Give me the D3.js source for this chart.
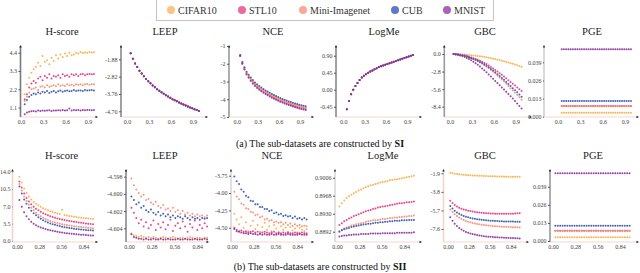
<!DOCTYPE html>
<html lang="en">
<head>
<meta charset="UTF-8">
<title>Transferability metrics on sub-datasets</title>
<script src="https://d3js.org/d3.v7.min.js"></script>
<style>
    body { margin: 0; background: #fff; }
    svg { display: block; }
    svg text { font-family: "Liberation Serif", "DejaVu Serif", serif; }
    .title { font-size: 10.5px; fill: #222; }
    .caption { font-size: 10px; fill: #111; }
    .legend_text { font-size: 10px; fill: #333; }
</style>
</head>
<body>
<svg width="640" height="273"></svg>
<script>
    // ---- data ----
    const datasets = ["CIFAR10", "STL10", "Mini-Imagenet", "CUB", "MNIST"];
    const metrics = ["H-score", "LEEP", "NCE", "LogMe", "GBC", "PGE"];

    const xTop = [0.05,0.08,0.11,0.14,0.17,0.20,0.23,0.26,0.29,0.32,0.35,0.38,0.41,0.44,0.47,0.50,
                  0.53,0.56,0.59,0.62,0.65,0.68,0.71,0.74,0.77,0.80,0.83,0.86,0.89,0.92,0.95,0.98];
    const xBottom = [0.03,0.06,0.09,0.12,0.15,0.18,0.21,0.24,0.27,0.30,0.33,0.36,0.39,0.42,0.45,0.48,
                     0.51,0.54,0.57,0.60,0.63,0.66,0.69,0.72,0.75,0.78,0.81,0.84,0.87,0.90,0.93,0.96];
    const xTicksTop = [0, 0.3, 0.6, 0.9];
    const xTicksBottom = [0, 0.28, 0.56, 0.84];

    // (a) SI  -- series in datasets order
    const hscoreTop = [
        [1.9,2.5,2.9,3.2,3.4,3.55,3.8,3.6,4.2,3.85,3.95,3.7,4.1,3.9,4.25,4.05,4.3,4.15,4.35,4.2,4.4,4.25,4.3,4.4,4.35,4.45,4.38,4.42,4.4,4.45,4.42,4.43],
        [1.6,1.9,2.3,2.55,2.7,2.6,2.85,2.95,2.75,3.0,2.9,3.1,2.85,3.0,2.95,3.05,2.9,3.1,3.0,3.05,2.95,3.1,3.05,3.1,3.0,3.1,3.12,3.05,3.1,3.12,3.1,3.12],
        [1.5,1.75,2.0,2.2,2.25,2.3,2.15,2.35,2.4,2.3,2.45,2.35,2.4,2.45,2.38,2.5,2.42,2.45,2.4,2.5,2.45,2.48,2.42,2.5,2.47,2.5,2.45,2.5,2.52,2.48,2.5,2.5],
        [1.3,1.55,1.75,1.85,1.95,1.9,2.0,1.95,2.05,2.0,2.1,1.98,2.05,2.1,2.0,2.08,2.12,2.05,2.1,2.12,2.08,2.1,2.15,2.1,2.12,2.13,2.1,2.15,2.12,2.14,2.15,2.13],
        [0.7,0.8,0.85,0.88,0.9,0.87,0.92,0.9,0.93,0.91,0.92,0.94,0.9,0.93,0.92,0.94,0.93,0.95,0.92,0.94,1.05,0.93,0.95,0.94,0.95,0.93,0.95,0.94,0.96,0.95,0.94,0.95]
    ];
    // all five datasets fall on the same LEEP curve
    const leepTopShared = [-1.55,-1.85,-2.1,-2.3,-2.5,-2.65,-2.8,-2.95,-3.07,-3.18,-3.3,-3.4,-3.5,-3.58,-3.67,-3.75,
                           -3.83,-3.9,-3.97,-4.04,-4.1,-4.16,-4.22,-4.28,-4.33,-4.39,-4.44,-4.49,-4.54,-4.59,-4.63,-4.68];
    const nceTop = [
        [-1.52,-1.93,-2.24,-2.49,-2.67,-2.83,-2.97,-3.1,-3.2,-3.3,-3.4,-3.48,-3.56,-3.63,-3.7,-3.76,-3.82,-3.88,-3.94,-3.99,-4.04,-4.09,-4.13,-4.18,-4.22,-4.26,-4.3,-4.33,-4.37,-4.4,-4.43,-4.46],
        [-1.55,-1.98,-2.3,-2.56,-2.75,-2.92,-3.07,-3.2,-3.3,-3.4,-3.49,-3.57,-3.65,-3.72,-3.79,-3.85,-3.91,-3.97,-4.03,-4.08,-4.13,-4.18,-4.22,-4.27,-4.31,-4.35,-4.39,-4.42,-4.46,-4.49,-4.52,-4.55],
        [-1.54,-1.96,-2.27,-2.53,-2.71,-2.88,-3.02,-3.15,-3.25,-3.35,-3.44,-3.52,-3.6,-3.67,-3.74,-3.8,-3.86,-3.92,-3.98,-4.03,-4.08,-4.13,-4.17,-4.22,-4.26,-4.3,-4.34,-4.37,-4.41,-4.44,-4.47,-4.5],
        [-1.5,-1.9,-2.2,-2.45,-2.62,-2.78,-2.92,-3.05,-3.15,-3.25,-3.34,-3.42,-3.5,-3.57,-3.64,-3.7,-3.76,-3.82,-3.88,-3.93,-3.98,-4.03,-4.07,-4.12,-4.16,-4.2,-4.24,-4.27,-4.31,-4.34,-4.37,-4.4],
        [-1.56,-2.0,-2.33,-2.6,-2.79,-2.97,-3.12,-3.25,-3.36,-3.46,-3.55,-3.63,-3.71,-3.78,-3.85,-3.91,-3.97,-4.03,-4.09,-4.14,-4.19,-4.24,-4.28,-4.33,-4.37,-4.41,-4.45,-4.48,-4.52,-4.55,-4.58,-4.61]
    ];
    // all five datasets fall on the same LogMe curve
    const logmeTopShared = [-0.52,-0.3,-0.12,0.0,0.1,0.18,0.26,0.32,0.37,0.41,0.45,0.48,0.51,0.54,0.57,0.6,
                            0.62,0.64,0.66,0.68,0.7,0.72,0.74,0.76,0.78,0.8,0.82,0.84,0.86,0.88,0.9,0.92];
    const gbcTop = [
        [0,-0.01,-0.03,-0.04,-0.07,-0.08,-0.12,-0.14,-0.19,-0.22,-0.27,-0.3,-0.36,-0.41,-0.47,-0.52,-0.6,-0.66,-0.74,-0.81,-0.9,-0.97,-1.07,-1.15,-1.26,-1.35,-1.47,-1.57,-1.69,-1.8,-1.93,-2.05],
        [0,-0.04,-0.08,-0.12,-0.18,-0.25,-0.33,-0.43,-0.54,-0.66,-0.78,-0.92,-1.07,-1.24,-1.42,-1.61,-1.82,-2.06,-2.31,-2.56,-2.8,-3.05,-3.3,-3.59,-3.88,-4.17,-4.46,-4.74,-5.03,-5.32,-5.61,-5.9],
        [0,-0.05,-0.09,-0.15,-0.23,-0.32,-0.41,-0.54,-0.68,-0.83,-0.99,-1.17,-1.36,-1.57,-1.78,-2.02,-2.27,-2.54,-2.82,-3.11,-3.42,-3.74,-4.06,-4.39,-4.73,-5.09,-5.45,-5.81,-6.17,-6.53,-6.91,-7.3],
        [0,-0.04,-0.09,-0.14,-0.21,-0.29,-0.38,-0.5,-0.63,-0.77,-0.92,-1.08,-1.26,-1.45,-1.66,-1.87,-2.11,-2.37,-2.63,-2.92,-3.21,-3.51,-3.81,-4.12,-4.45,-4.78,-5.11,-5.44,-5.77,-6.1,-6.45,-6.8],
        [0,-0.06,-0.13,-0.22,-0.33,-0.46,-0.62,-0.8,-1.0,-1.22,-1.46,-1.72,-2.0,-2.3,-2.6,-2.92,-3.25,-3.6,-3.95,-4.3,-4.64,-4.98,-5.32,-5.66,-6.0,-6.36,-6.72,-7.1,-7.48,-7.88,-8.28,-8.7]
    ];
    // PGE stays flat for every dataset
    const pgeTopLevels = [0.0029, 0.0077, 0.0075, 0.0113, 0.0483];

    // (b) SII
    const hscoreBottom = [
        [13.0,11.8,10.6,9.7,9.0,8.4,7.9,7.5,7.2,6.9,6.6,6.4,6.2,6.0,5.85,5.7,5.55,5.45,6.3,5.25,5.15,5.05,4.98,4.9,4.83,4.77,4.7,4.65,4.6,4.55,4.5,4.45],
        [12.0,10.8,9.6,8.7,8.0,7.4,6.9,6.5,6.2,5.9,5.6,5.4,5.2,5.0,4.85,4.7,4.55,4.45,4.35,4.25,4.15,4.05,3.97,3.9,3.82,3.75,3.68,3.62,3.56,3.5,3.45,3.4],
        [11.5,10.2,9.0,8.1,7.3,6.7,6.2,5.7,5.3,5.0,4.7,4.45,4.25,4.05,3.9,3.75,3.62,3.5,3.4,3.3,3.22,3.14,3.07,3.0,2.94,2.88,2.83,2.78,2.73,2.69,2.65,2.6],
        [11.0,9.6,8.4,7.5,6.7,6.1,5.6,5.2,4.8,4.5,4.2,3.95,3.75,3.56,3.4,3.26,3.13,3.01,2.9,2.8,2.72,2.64,2.57,2.5,2.44,2.38,2.33,2.28,2.23,2.19,2.15,2.1],
        [8.3,6.9,5.8,5.0,4.4,3.9,3.5,3.2,2.95,2.75,2.57,2.42,2.28,2.16,2.05,1.95,1.86,1.78,1.7,1.63,1.57,1.51,1.46,1.41,1.36,1.32,1.28,1.24,1.2,1.16,1.13,1.1]
    ];
    const leepBottom = [
        [-4.6046,-4.6048,-4.6049,-4.6050,-4.6049,-4.6050,-4.6051,-4.6050,-4.6051,-4.6050,-4.6051,-4.6052,-4.6051,-4.6050,-4.6051,-4.6052,-4.6051,-4.6050,-4.6051,-4.6052,-4.6051,-4.6051,-4.6052,-4.6051,-4.6050,-4.6051,-4.6052,-4.6051,-4.6051,-4.6052,-4.6051,-4.6051],
        [-4.6016,-4.6022,-4.6028,-4.6034,-4.6030,-4.6038,-4.6033,-4.6040,-4.6036,-4.6031,-4.6042,-4.6035,-4.6039,-4.6033,-4.6041,-4.6036,-4.6030,-4.6043,-4.6037,-4.6034,-4.6040,-4.6032,-4.6038,-4.6044,-4.6035,-4.6039,-4.6031,-4.6042,-4.6036,-4.6040,-4.6034,-4.6038],
        [-4.5982,-4.5990,-4.5995,-4.5999,-4.6003,-4.6001,-4.6007,-4.6006,-4.6010,-4.6012,-4.6009,-4.6014,-4.6016,-4.6013,-4.6018,-4.6017,-4.6020,-4.6016,-4.6021,-4.6019,-4.6023,-4.6020,-4.6024,-4.6022,-4.6025,-4.6023,-4.6026,-4.6024,-4.6026,-4.6025,-4.6027,-4.6025],
        [-4.6003,-4.6007,-4.6012,-4.6010,-4.6016,-4.6014,-4.6019,-4.6021,-4.6018,-4.6022,-4.6024,-4.6021,-4.6025,-4.6023,-4.6026,-4.6024,-4.6027,-4.6025,-4.6028,-4.6026,-4.6027,-4.6029,-4.6026,-4.6028,-4.6030,-4.6027,-4.6029,-4.6028,-4.6030,-4.6028,-4.6029,-4.6028],
        [-4.6047,-4.6050,-4.6051,-4.6052,-4.6052,-4.6053,-4.6052,-4.6053,-4.6053,-4.6052,-4.6053,-4.6053,-4.6052,-4.6053,-4.6053,-4.6052,-4.6053,-4.6053,-4.6053,-4.6052,-4.6053,-4.6053,-4.6052,-4.6053,-4.6053,-4.6053,-4.6052,-4.6053,-4.6053,-4.6053,-4.6052,-4.6053]
    ];
    const nceBottom = [
        [-4.30,-4.38,-4.45,-4.35,-4.50,-4.42,-4.55,-4.47,-4.40,-4.52,-4.46,-4.56,-4.49,-4.43,-4.53,-4.48,-4.55,-4.46,-4.51,-4.57,-4.48,-4.53,-4.50,-4.56,-4.49,-4.54,-4.51,-4.57,-4.50,-4.53,-4.55,-4.52],
        [-4.50,-4.53,-4.55,-4.54,-4.56,-4.55,-4.57,-4.56,-4.55,-4.57,-4.56,-4.58,-4.57,-4.56,-4.57,-4.58,-4.57,-4.56,-4.58,-4.57,-4.58,-4.57,-4.58,-4.57,-4.58,-4.58,-4.57,-4.58,-4.58,-4.57,-4.58,-4.58],
        [-3.98,-4.05,-4.09,-4.15,-4.17,-4.22,-4.23,-4.27,-4.28,-4.32,-4.31,-4.35,-4.34,-4.38,-4.37,-4.40,-4.39,-4.42,-4.41,-4.43,-4.42,-4.45,-4.43,-4.46,-4.44,-4.47,-4.45,-4.47,-4.46,-4.48,-4.47,-4.48],
        [-3.76,-3.83,-3.87,-3.95,-3.98,-4.04,-4.06,-4.11,-4.12,-4.16,-4.16,-4.20,-4.20,-4.23,-4.23,-4.26,-4.25,-4.29,-4.28,-4.31,-4.30,-4.33,-4.32,-4.34,-4.33,-4.36,-4.34,-4.37,-4.36,-4.38,-4.36,-4.38],
        [-4.52,-4.55,-4.56,-4.57,-4.58,-4.58,-4.59,-4.58,-4.59,-4.59,-4.60,-4.59,-4.60,-4.59,-4.60,-4.60,-4.59,-4.60,-4.60,-4.59,-4.60,-4.60,-4.60,-4.59,-4.60,-4.60,-4.60,-4.60,-4.59,-4.60,-4.60,-4.60]
    ];
    const logmeBottom = [
        [0.8945,0.8952,0.8958,0.8963,0.8967,0.8970,0.8973,0.8976,0.8979,0.8981,0.8984,0.8986,0.8988,0.8990,0.8991,0.8993,0.8994,0.8996,0.8997,0.8998,0.8999,0.9001,0.9001,0.9002,0.9003,0.9004,0.9005,0.9006,0.9007,0.9008,0.9009,0.9010],
        [0.8906,0.8910,0.8914,0.8917,0.8920,0.8922,0.8925,0.8927,0.8929,0.8931,0.8933,0.8935,0.8937,0.8938,0.8940,0.8941,0.8943,0.8944,0.8945,0.8946,0.8947,0.8948,0.8949,0.8950,0.8951,0.8952,0.8952,0.8953,0.8954,0.8954,0.8955,0.8956],
        [0.8893,0.8896,0.8899,0.8901,0.8903,0.8905,0.8906,0.8908,0.8909,0.8910,0.8911,0.8913,0.8914,0.8915,0.8916,0.8916,0.8917,0.8918,0.8919,0.8919,0.8920,0.8921,0.8921,0.8922,0.8922,0.8923,0.8923,0.8924,0.8924,0.8925,0.8925,0.8926],
        [0.8892,0.8895,0.8897,0.8899,0.8900,0.8902,0.8903,0.8904,0.8905,0.8906,0.8907,0.8908,0.8909,0.8909,0.8910,0.8911,0.8911,0.8912,0.8912,0.8913,0.8913,0.8914,0.8914,0.8915,0.8915,0.8915,0.8916,0.8916,0.8916,0.8917,0.8917,0.8917],
        [0.8882,0.8883,0.8884,0.8884,0.8885,0.8885,0.8886,0.8886,0.8886,0.8887,0.8887,0.8887,0.8887,0.8888,0.8888,0.8888,0.8888,0.8888,0.8889,0.8889,0.8889,0.8889,0.8889,0.8889,0.8890,0.8890,0.8890,0.8890,0.8890,0.8890,0.8890,0.8891]
    ];
    const gbcBottom = [
        [-1.85,-1.9,-1.95,-1.98,-2.0,-2.03,-2.05,-2.07,-2.09,-2.1,-2.12,-2.13,-2.14,-2.15,-2.16,-2.17,-2.18,-2.19,-2.2,-2.2,-2.21,-2.22,-2.22,-2.23,-2.23,-2.24,-2.24,-2.25,-2.25,-2.25,-2.26,-2.26],
        [-4.7,-4.95,-5.15,-5.3,-5.42,-5.52,-5.6,-5.66,-5.72,-5.77,-5.81,-5.85,-5.88,-5.91,-5.94,-5.96,-5.98,-6.0,-6.01,-6.02,-6.03,-6.04,-6.04,-6.05,-6.05,-6.05,-6.04,-6.04,-6.03,-6.02,-6.0,-5.98],
        [-5.6,-5.85,-6.08,-6.27,-6.43,-6.56,-6.67,-6.77,-6.85,-6.92,-6.98,-7.03,-7.08,-7.12,-7.16,-7.19,-7.22,-7.25,-7.27,-7.29,-7.31,-7.33,-7.34,-7.36,-7.37,-7.38,-7.39,-7.4,-7.41,-7.42,-7.43,-7.44],
        [-5.25,-5.5,-5.72,-5.9,-6.04,-6.16,-6.26,-6.34,-6.41,-6.47,-6.52,-6.56,-6.6,-6.63,-6.66,-6.69,-6.71,-6.73,-6.75,-6.76,-6.78,-6.79,-6.8,-6.81,-6.82,-6.83,-6.83,-6.84,-6.84,-6.85,-6.85,-6.86],
        [-6.4,-6.75,-7.05,-7.3,-7.5,-7.66,-7.79,-7.9,-7.99,-8.06,-8.12,-8.17,-8.22,-8.26,-8.3,-8.33,-8.36,-8.38,-8.4,-8.42,-8.44,-8.45,-8.47,-8.48,-8.49,-8.5,-8.51,-8.52,-8.53,-8.54,-8.55,-8.56]
    ];
    const pgeBottomLevels = [0.0027, 0.0074, 0.0074, 0.0110, 0.0486];

    const topSeries = [
        hscoreTop,
        datasets.map(() => leepTopShared),
        nceTop,
        datasets.map(() => logmeTopShared),
        gbcTop,
        pgeTopLevels.map(v => xTop.map(() => v))
    ];
    const bottomSeries = [
        hscoreBottom, leepBottom, nceBottom, logmeBottom, gbcBottom,
        pgeBottomLevels.map(v => xBottom.map(() => v))
    ];

    const yTicksTop = [[1.1,2.2,3.3,4.4], [-4.70,-3.76,-2.82,-1.88], [-5,-4,-3,-2,-1], [-0.45,0,0.45,0.90], [-8.4,-5.6,-2.8,0], [0,0.013,0.026,0.039]];
    const yTicksBottom = [[0,3.5,7,10.5,14], [-4.604,-4.602,-4.600,-4.598], [-4.50,-4.25,-4.00,-3.75], [0.8892,0.8930,0.8968,0.9006], [-7.6,-5.7,-3.8,-1.9], [0,0.013,0.026,0.039]];

    // ---- layout ----
    const serif = "'Liberation Serif', 'DejaVu Serif', serif";
    const colors = ["#f9ad45", "#e6337f", "#f48d72", "#3153b0", "#8d2c9e"];
    const legendColors = ["#fcc680", "#ec6aa2", "#f7aa98", "#6078c4", "#a862b6"];
    const legendDotX = [171, 242, 303, 395, 447];

    const rows = [
        {top: 46, bottom: 117, xs: xTop, xRefVal: 0.9, xTicks: xTicksTop, xFmt: ".1f", titleY: 35, series: topSeries, yTicks: yTicksTop,
         panels: [
            {axisX: 20.5, x0: 21, xRef: 88, xEnd: 97, titleX: 62, yDom: [0.532, 4.805], yFmt: ".1f", yColor: "#7a7a7a", tick: 2},
            {axisX: 121, x0: 127, xRef: 193, xEnd: 207, titleX: 165, yDom: [-5.011, -1.154], yFmt: ".2f", yColor: "#8a8a8a", tick: 2},
            {axisX: 229, x0: 236.7, xRef: 300, xEnd: 313, titleX: 273, yDom: [-5, -1], yFmt: ".0f", yColor: "#9a9a9a", tick: 2},
            {axisX: 336, x0: 343.3, xRef: 407.3, xEnd: 421, titleX: 384, yDom: [-0.723, 1.157], yFmt: ".2f", yColor: "#8a8a8a", tick: 2},
            {axisX: 444.3, x0: 450, xRef: 515.7, xEnd: 531, titleX: 485, yDom: [-10.04, 1.276], yFmt: ".1f", yColor: "#9a9a9a", tick: 2},
            {axisX: 544, x0: 558, xRef: 625, xEnd: 638, titleX: 592, yDom: [-0.0002, 0.0507], yFmt: ".3f", yColor: "#d0d0d0", tick: 1}
         ]},
        {top: 170, bottom: 242, xs: xBottom, xRefVal: 0.84, xTicks: xTicksBottom, xFmt: ".2f", titleY: 159, series: bottomSeries, yTicks: yTicksBottom,
         panels: [
            {axisX: 12.5, x0: 17, xRef: 83.5, xEnd: 97, titleX: 61.5, yDom: [-0.2, 14.34], yFmt: ".1f", yColor: "#f6d2ca", tick: 0.5},
            {axisX: 126, x0: 129, xRef: 197.3, xEnd: 208, titleX: 165, yDom: [-4.60559, -4.59722], yFmt: ".3f", yColor: "#8a8a8a", tick: 2},
            {axisX: 231, x0: 232, xRef: 297.3, xEnd: 313, titleX: 272, yDom: [-4.706, -3.668], yFmt: ".2f", yColor: "#d8d8d8", tick: 2},
            {axisX: 335, x0: 337, xRef: 404.3, xEnd: 421, titleX: 383, yDom: [0.88703, 0.90223], yFmt: ".4f", yColor: "#d8d8d8", tick: 2},
            {axisX: 443.5, x0: 448, xRef: 510.7, xEnd: 528, titleX: 485, yDom: [-8.93, -1.562], yFmt: ".1f", yColor: "#f6d2ca", tick: 2},
            {axisX: 550, x0: 553, xRef: 620, xEnd: 638, titleX: 593, yDom: [-0.0007, 0.051], yFmt: ".3f", yColor: "#9a9a9a", tick: 2}
         ]}
    ];

    const svg = d3.select("svg");
    const fmt = d3.formatLocale({decimal: ".", thousands: ",", grouping: [3], currency: ["", ""], minus: "-"}).format;

    function drawPanel(row, p, k) {
        const x = d3.scaleLinear().domain([0, row.xRefVal]).range([p.x0, p.xRef]);
        const y = d3.scaleLinear().domain(p.yDom).range([row.bottom, row.top]);
        const g = svg.append("g");

        g.append("text").attr("class", "title")
            .attr("font-family", serif)
            .attr("x", p.titleX).attr("y", row.titleY)
            .attr("text-anchor", "middle").text(metrics[k]);

        // x axis line + arrow
        g.append("line")
            .attr("x1", p.axisX).attr("x2", p.xEnd)
            .attr("y1", row.bottom).attr("y2", row.bottom)
            .attr("stroke", "#f7d6cf").attr("stroke-width", 1);
        g.append("path")
            .attr("d", `M${p.xEnd + 1},${row.bottom} l-2.5,-1.3 l0,2.6 z`)
            .attr("fill", "#222");

        // y axis line + arrow
        g.append("line")
            .attr("x1", p.axisX).attr("x2", p.axisX)
            .attr("y1", row.bottom).attr("y2", row.top)
            .attr("stroke", p.yColor).attr("stroke-width", 1.6);
        g.append("path")
            .attr("d", `M${p.axisX},${row.top - 1} l-1.2,2.4 l2.4,0 z`)
            .attr("fill", "#222");

        const xa = g.append("g")
            .attr("transform", `translate(0,${row.bottom})`)
            .call(d3.axisBottom(x).tickValues(row.xTicks).tickSize(0).tickPadding(2.5).tickFormat(fmt(row.xFmt)));
        xa.select(".domain").remove();

        const ya = g.append("g")
            .attr("transform", `translate(${p.axisX},0)`)
            .call(d3.axisLeft(y).tickValues(row.yTicks[k]).tickSize(p.tick).tickPadding(1.5).tickFormat(fmt(p.yFmt)));
        ya.select(".domain").remove();
        ya.selectAll("line").attr("stroke", "#555");

        [xa, ya].forEach(a => a.attr("font-size", 6).attr("font-family", serif)
            .selectAll("text").attr("fill", "#444"));

        row.series[k].forEach((vals, i) => {
            g.append("g").selectAll("circle")
                .data(vals.map((v, j) => [row.xs[j], v]))
                .join("circle")
                .attr("cx", d => x(d[0]))
                .attr("cy", d => y(d[1]))
                .attr("r", 1)
                .attr("fill", colors[i])
                .attr("fill-opacity", 0.9);
        });
    }

    rows.forEach(row => row.panels.forEach((p, k) => drawPanel(row, p, k)));

    // legend
    const legend = svg.append("g");
    legend.append("rect")
        .attr("x", 156.5).attr("y", -0.5).attr("width", 337).attr("height", 21)
        .attr("fill", "#fff").attr("stroke", "#c4c4c4");
    datasets.forEach((name, i) => {
        legend.append("circle").attr("cx", legendDotX[i]).attr("cy", 10).attr("r", 4)
            .attr("fill", legendColors[i]);
        legend.append("text").attr("class", "legend_text")
            .attr("font-family", serif)
            .attr("x", legendDotX[i] + 7).attr("y", 13.5).text(name);
    });

    // captions
    const captions = [["(a) The sub-datasets are constructed by ", "SI", 146.5],
                      ["(b) The sub-datasets are constructed by ", "SII", 270]];
    captions.forEach(c => {
        const t = svg.append("text").attr("class", "caption")
            .attr("font-family", serif)
            .attr("x", 320).attr("y", c[2]).attr("text-anchor", "middle");
        t.append("tspan").text(c[0]);
        t.append("tspan").attr("font-weight", "bold").text(c[1]);
    });
</script>
</body>
</html>
